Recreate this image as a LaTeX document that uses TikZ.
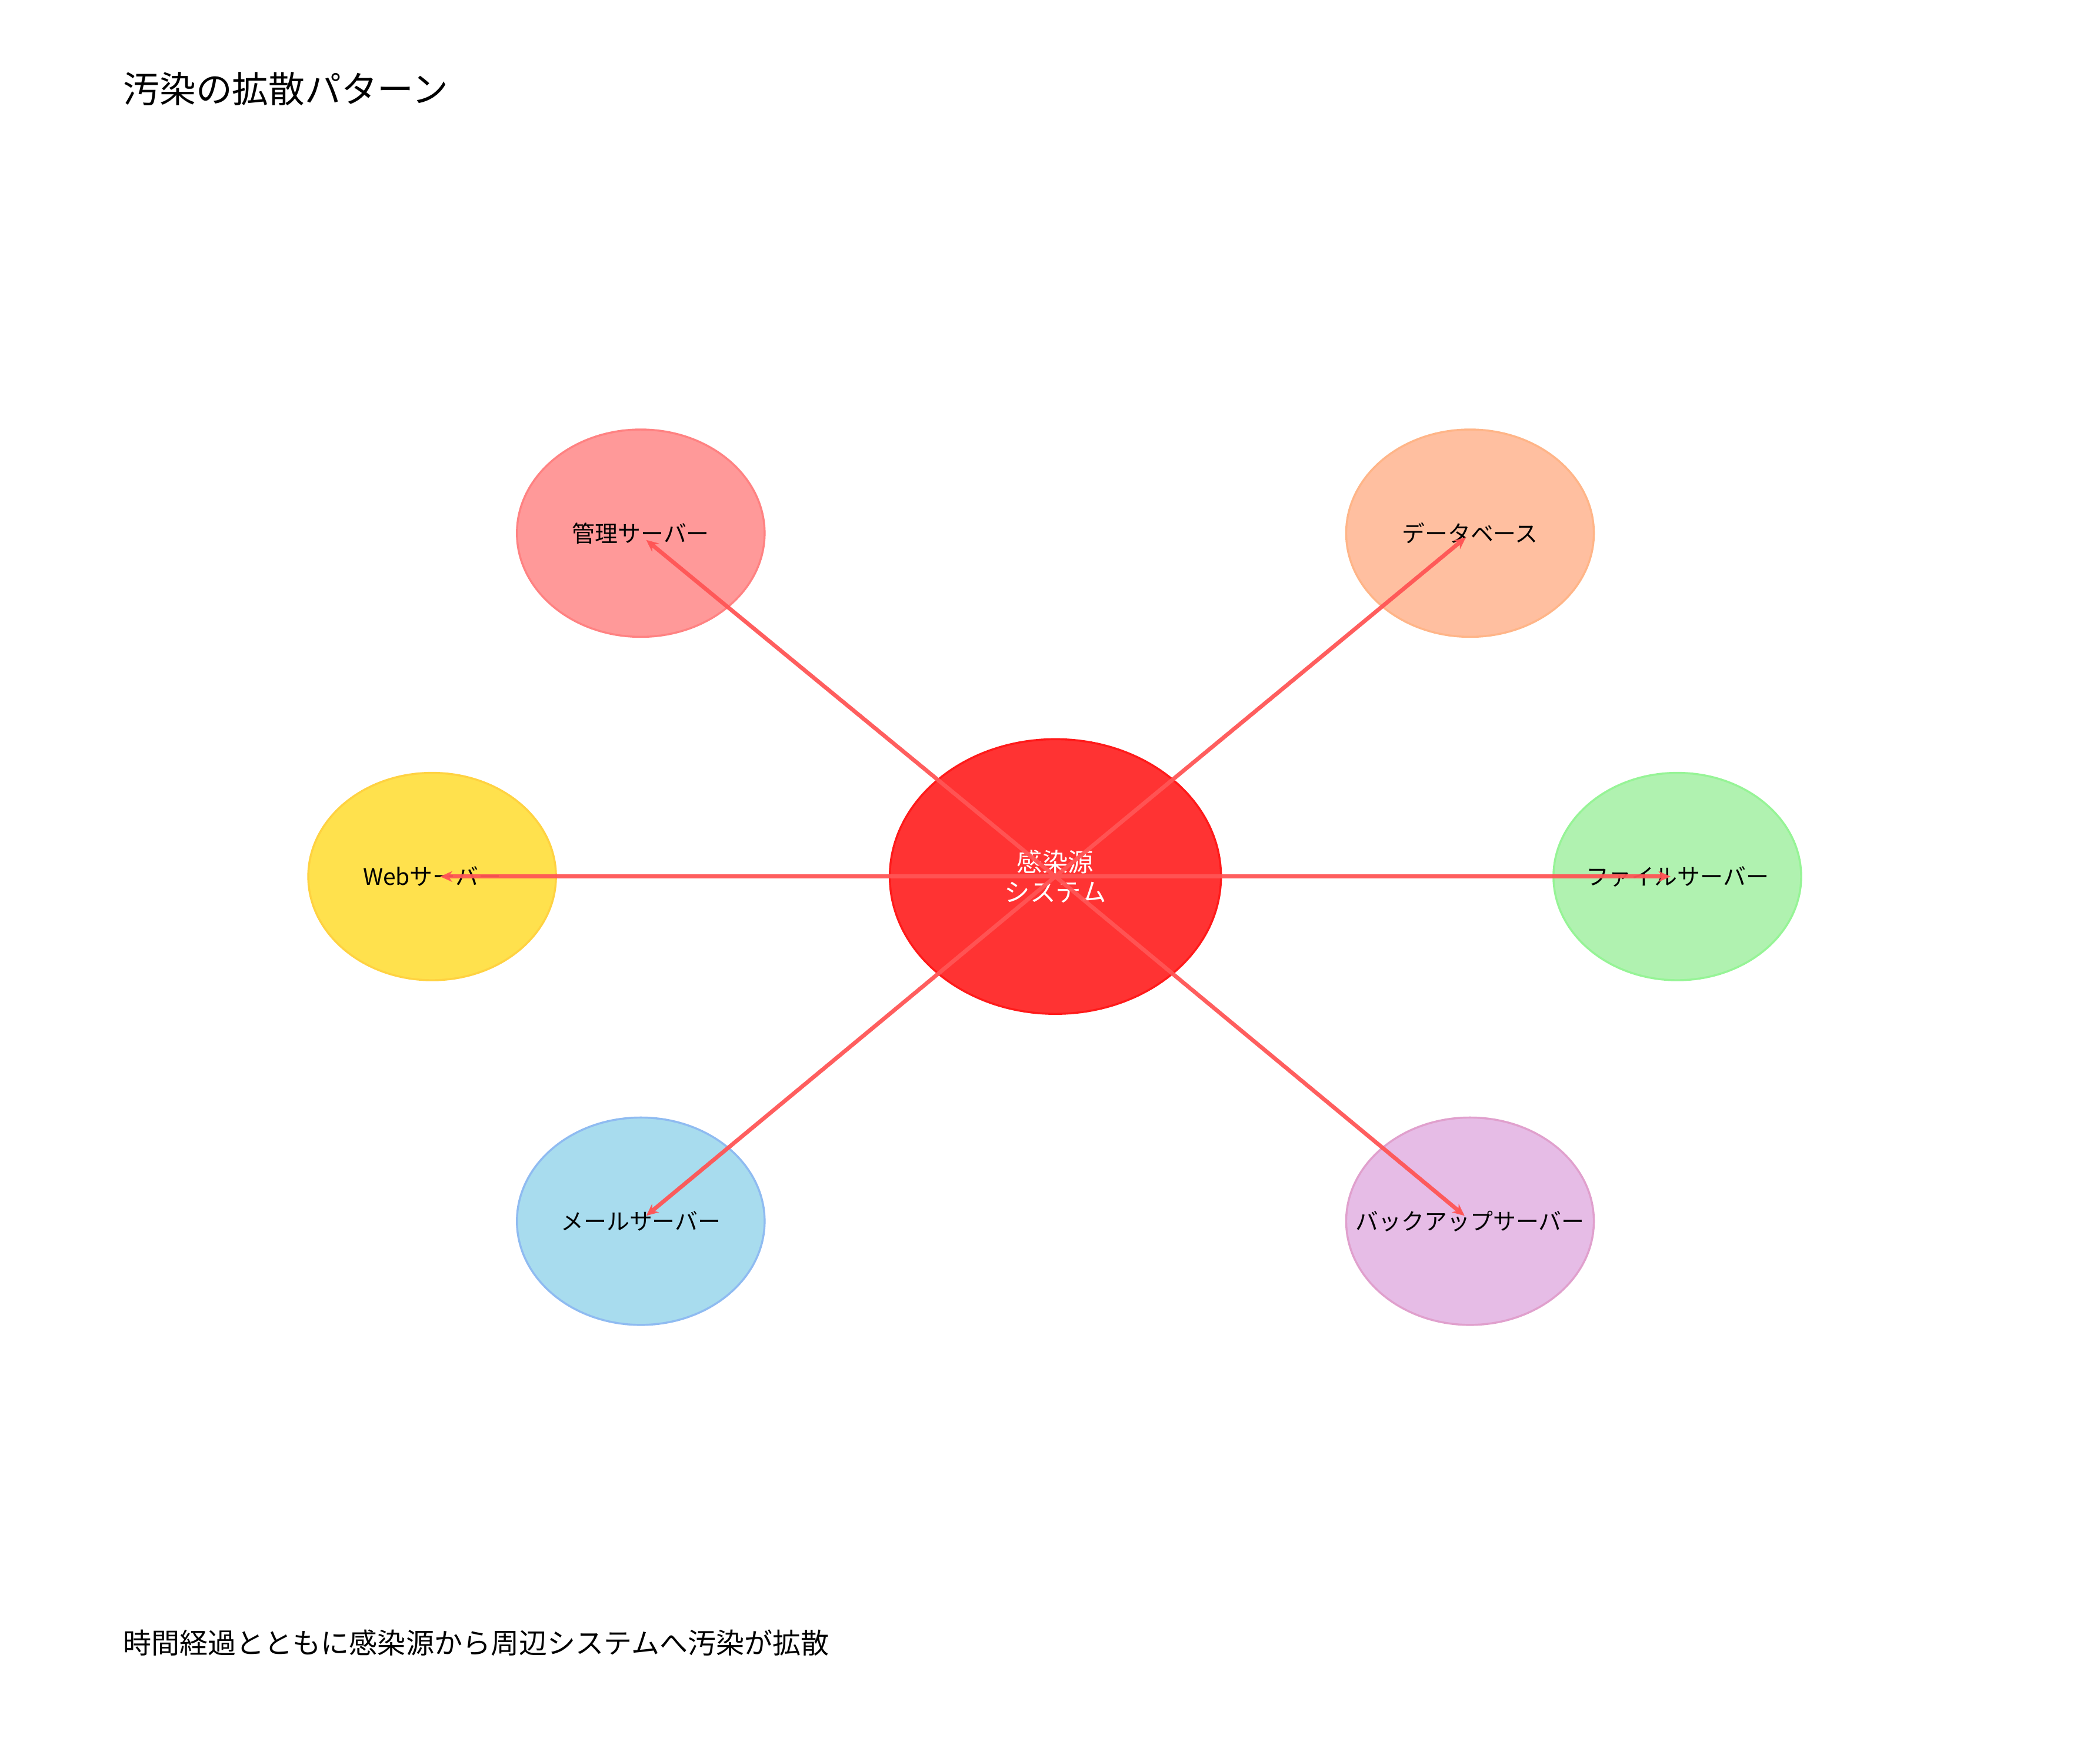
\documentclass[tikz,border=0pt]{standalone}
\usepackage{fontspec}
\setmainfont{Noto Sans CJK JP}
\usetikzlibrary{arrows.meta,shapes.geometric}
\definecolor{cRed}{HTML}{FF3333}
\definecolor{cRedE}{HTML}{FF1A1A}
\definecolor{cMg}{HTML}{FF9999}
\definecolor{cDb}{HTML}{FFBFA0}
\definecolor{cWeb}{HTML}{FFE14D}
\definecolor{cFile}{HTML}{B0F2B0}
\definecolor{cMail}{HTML}{A8DCEE}
\definecolor{cBk}{HTML}{E6BCE6}
\definecolor{cArr}{HTML}{FF5555}
\begin{document}
\begin{tikzpicture}[x=1pt,y=-1pt,
  srv/.style={ellipse,minimum width=184pt,minimum height=154pt,draw,line width=1.5pt},
  lbl/.style={font=\fontsize{17}{19}\selectfont,inner sep=0pt},
  arr/.style={draw=cArr,opacity=0.95,line width=3pt,-{Stealth[length=9pt,width=8pt]}}]
\useasboundingbox (0,0) rectangle (1560,1298);
\node[anchor=west,font=\fontsize{27}{30}\selectfont] (title) at (88,66) {汚染の拡散パターン};
\node[anchor=west,font=\fontsize{21}{24}\selectfont] (foot) at (88,1220) {時間経過とともに感染源から周辺システムへ汚染が拡散};
\node[srv,fill=cMg,draw=cMg!85!red] (mg) at (476,396) {};
\node[srv,fill=cDb,draw=cDb!85!orange] (db) at (1092,396) {};
\node[srv,fill=cWeb,draw=cWeb!85!orange] (web) at (321,651) {};
\node[srv,fill=cFile,draw=cFile!85!green] (file) at (1246,651) {};
\node[srv,fill=cMail,draw=cMail!85!blue] (mail) at (476,907) {};
\node[srv,fill=cBk,draw=cBk!85!purple] (bk) at (1092,907) {};
\node[lbl] (mgl) at (mg) {管理サーバー};
\node[lbl] (dbl) at (db) {データベース};
\node[lbl] (webl) at (web) {Webサーバー};
\node[lbl] (filel) at (file) {ファイルサーバー};
\node[lbl] (maill) at (mail) {メールサーバー};
\node[lbl] (bkl) at (bk) {バックアップサーバー};
\node[ellipse,minimum width=246pt,minimum height=204pt,fill=cRed,draw=cRedE,line width=1.5pt] (src) at (784,651) {};
\node[text=white,align=center,font=\fontsize{19}{22}\selectfont,inner sep=0pt] (srcl) at (src) {感染源\\システム};
\coordinate (emg) at (480,401);
\coordinate (edb) at (1089,399);
\coordinate (eweb) at (327,651);
\coordinate (efile) at (1241,651);
\coordinate (email) at (480,903);
\coordinate (ebk) at (1088,903);
\foreach \e in {emg,edb,eweb,efile,email,ebk} \draw[arr] (src.center) -- (\e);
\end{tikzpicture}
\end{document}
